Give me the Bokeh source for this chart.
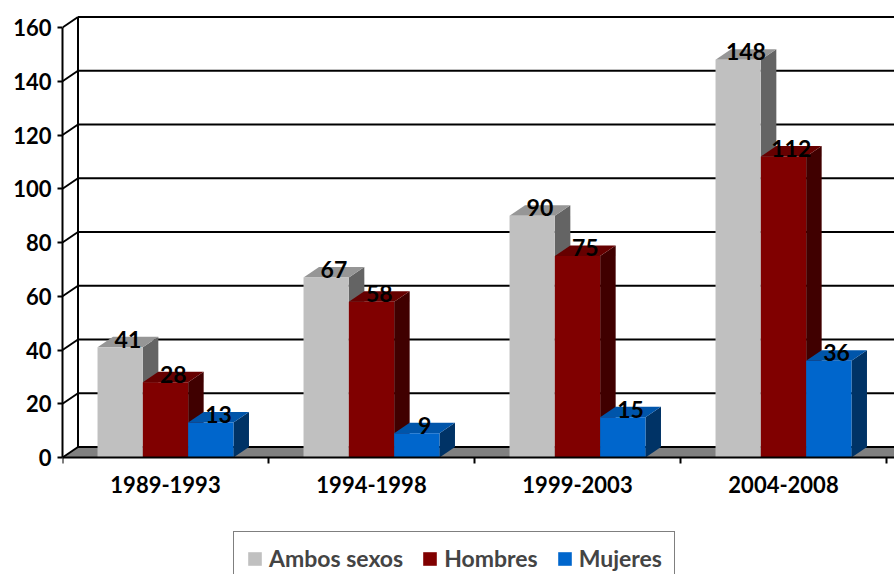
from bokeh.plotting import figure
from bokeh.models import Range1d, FixedTicker, Legend, LegendItem
from bokeh.core.properties import value
from bokeh.embed import file_html
from bokeh.resources import INLINE

# ---- data ----
categories = ["1989-1993", "1994-1998", "1999-2003", "2004-2008"]
ambos = [41, 67, 90, 148]
hombres = [28, 58, 75, 112]
mujeres = [13, 9, 15, 36]
series_names = ["Ambos sexos", "Hombres", "Mujeres"]
y_ticks = [0, 20, 40, 60, 80, 100, 120, 140, 160]

# ---- styles ----
front_colors = ["#C0C0C0", "#800000", "#0066CC"]
top_colors = ["#969696", "#660000", "#0055AA"]
side_colors = ["#646464", "#400000", "#003366"]
FONT = "Lato"

W, H = 894, 574
LEFT = 62            # px: frame left (front y-axis)
ZERO_PX = 457        # px from top where value 0 sits
CAT_PX = 206         # px per category
VAL_PX = 2.6875      # px per value unit

XEND = (W - LEFT) / CAT_PX
YSTART = -(H - ZERO_PX) / VAL_PX
YEND = ZERO_PX / VAL_PX

DX = 15.5 / CAT_PX   # depth offset in x
DY = 10.5 / VAL_PX   # depth offset in y
TICK = 6 / VAL_PX
BAR_W = 0.22
OFFS = [0.17, 0.39, 0.61]
YMAX = 160

p = figure(width=W, height=H, x_range=Range1d(0, XEND), y_range=Range1d(YSTART, YEND),
           output_backend="svg", toolbar_location=None,
           min_border_left=LEFT, min_border_right=0, min_border_top=0, min_border_bottom=0,
           outline_line_color=None, x_axis_location=None)
p.xgrid.visible = False
p.ygrid.visible = False

# floor
p.patch([0, XEND + 1, XEND + 1, DX], [0, 0, DY, DY], fill_color="#808080", line_color=None)

# back wall gridlines
n = len(y_ticks)
p.segment(x0=[DX] * n, y0=[t + DY for t in y_ticks], x1=[XEND + 1] * n, y1=[t + DY for t in y_ticks],
          line_color="black", line_width=2)
# side wall diagonals
p.segment(x0=[0] * n, y0=y_ticks, x1=[DX] * n, y1=[t + DY for t in y_ticks],
          line_color="black", line_width=2)
# back wall vertical edge
p.segment(x0=[DX], y0=[DY], x1=[DX], y1=[YMAX + DY], line_color="black", line_width=2)

series = [ambos, hombres, mujeres]

# sides and tops
xs, ys, cols = [], [], []
for i in range(len(categories)):
    for s in range(3):
        v = series[s][i]
        l = i + OFFS[s]
        r = l + BAR_W
        xs.append([r, r + DX, r + DX, r]); ys.append([0, DY, v + DY, v]); cols.append(side_colors[s])
        xs.append([l, r, r + DX, l + DX]); ys.append([v, v, v + DY, v + DY]); cols.append(top_colors[s])
p.patches(xs=xs, ys=ys, fill_color=cols, line_color=None)

# front faces + value labels
items = []
for s in range(3):
    xc = [i + OFFS[s] + BAR_W / 2 for i in range(len(categories))]
    r = p.vbar(x=xc, top=series[s], bottom=0, width=BAR_W, fill_color=front_colors[s], line_color=None)
    items.append(LegendItem(label=series_names[s], renderers=[r]))
    p.text(x=[x + DX / 2 for x in xc], y=series[s], text=[str(v) for v in series[s]],
           y_offset=-8, text_font=value(FONT), text_font_style="bold", text_font_size="23px",
           text_align="center", text_baseline="middle", text_color="black")

# category (x) axis drawn at value 0
p.segment(x0=[0], y0=[0], x1=[XEND + 1], y1=[0], line_color="black", line_width=2)
nb = len(categories) + 1
p.segment(x0=list(range(nb)), y0=[0] * nb, x1=list(range(nb)), y1=[-TICK] * nb,
          line_color="black", line_width=2)
p.text(x=[i + 0.5 for i in range(len(categories))], y=[0] * len(categories), text=categories,
       y_offset=18, text_font=value(FONT), text_font_style="bold", text_font_size="22px",
       text_align="center", text_baseline="top", text_color="black")

# value (y) axis
ya = p.yaxis[0]
ya.ticker = FixedTicker(ticks=y_ticks)
ya.bounds = (0, YMAX)
ya.axis_line_width = 2
ya.major_tick_line_width = 2
ya.major_tick_out = 5
ya.major_tick_in = 0
ya.minor_tick_line_color = None
ya.major_label_standoff = 6
ya.major_label_text_font = FONT
ya.major_label_text_font_style = "bold"
ya.major_label_text_font_size = "22px"
ya.major_label_text_color = "black"

legend = Legend(items=items, orientation="horizontal", location=(171, -11),
                label_text_font=FONT, label_text_font_style="bold", label_text_font_size="23px",
                glyph_width=17, glyph_height=17, label_standoff=6, spacing=18,
                padding=12, margin=0, border_line_color="black", border_line_width=1.5,
                background_fill_color="white", background_fill_alpha=1)
p.add_layout(legend)

open("out.html", "w").write(file_html(p, INLINE))
